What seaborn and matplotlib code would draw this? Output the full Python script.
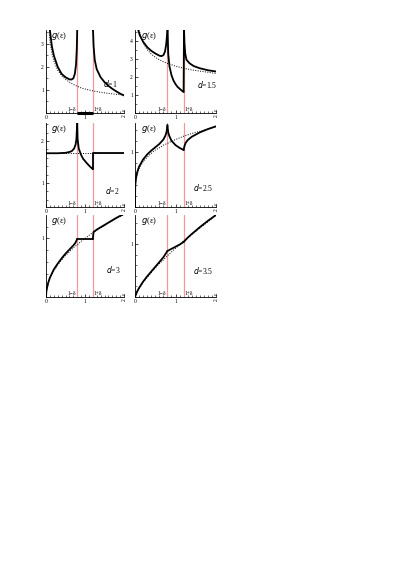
import numpy as np
import pandas as pd
import matplotlib.pyplot as plt
import seaborn as sns

sns.set_style("ticks")
plt.rcParams["font.family"] = ["Liberation Serif", "DejaVu Serif"]
plt.rcParams["text.color"] = "black"
plt.rcParams["xtick.color"] = "black"
plt.rcParams["ytick.color"] = "black"
plt.rcParams["axes.edgecolor"] = "black"

# gap edges 1-delta, 1+delta
gap_lo, gap_hi = 0.8, 1.2

# ---- d = 1 ----
d1_free_x = [0.08, 0.1, 0.15, 0.2, 0.3, 0.4, 0.5, 0.6, 0.7, 0.8, 0.9, 1.0, 1.2, 1.4, 1.6, 1.8, 2.0]
d1_free_y = [3.5, 3.15, 2.6, 2.26, 1.86, 1.62, 1.46, 1.34, 1.24, 1.16, 1.09, 1.04, 0.96, 0.9, 0.85, 0.81, 0.78]
d1_lo_x = [0.1, 0.15, 0.2, 0.3, 0.4, 0.5, 0.6, 0.65, 0.7, 0.74, 0.77, 0.79, 0.8]
d1_lo_y = [3.6, 2.9, 2.5, 2.0, 1.7, 1.55, 1.46, 1.45, 1.5, 1.7, 2.1, 2.8, 3.6]
d1_mid_x = [0.8, 1.2]
d1_mid_y = [0.0, 0.0]
d1_hi_x = [1.2, 1.205, 1.22, 1.25, 1.3, 1.4, 1.5, 1.6, 1.7, 1.8, 1.9, 2.0]
d1_hi_y = [3.6, 3.6, 2.9, 2.3, 1.9, 1.55, 1.34, 1.18, 1.05, 0.94, 0.84, 0.76]

# ---- d = 1.5 ----
d15_free_x = [0.1, 0.15, 0.2, 0.3, 0.4, 0.5, 0.6, 0.7, 0.8, 1.0, 1.2, 1.4, 1.6, 1.8, 2.0]
d15_free_y = [4.62, 4.18, 3.89, 3.51, 3.27, 3.09, 2.95, 2.84, 2.75, 2.6, 2.48, 2.39, 2.32, 2.26, 2.19]
d15_lo_x = [0.08, 0.12, 0.2, 0.3, 0.4, 0.5, 0.6, 0.65, 0.7, 0.74, 0.77, 0.79, 0.8]
d15_lo_y = [4.6, 4.3, 3.95, 3.65, 3.45, 3.3, 3.18, 3.15, 3.2, 3.4, 3.8, 4.3, 4.6]
d15_mid_x = [0.805, 0.82, 0.85, 0.9, 0.95, 1.0, 1.05, 1.1, 1.15, 1.19, 1.2]
d15_mid_y = [4.6, 3.3, 2.6, 2.1, 1.8, 1.6, 1.45, 1.35, 1.25, 1.18, 1.17]
d15_hi_x = [1.2, 1.21, 1.22, 1.24, 1.27, 1.35, 1.45, 1.6, 1.8, 2.0]
d15_hi_y = [1.17, 4.6, 3.9, 3.3, 2.95, 2.75, 2.6, 2.48, 2.37, 2.3]

# ---- d = 2 ----
d2_free_x = [0.0, 2.0]
d2_free_y = [1.71, 1.71]
d2_lo_x = [0.0, 0.3, 0.5, 0.6, 0.66, 0.72, 0.76, 0.78, 0.8]
d2_lo_y = [1.71, 1.71, 1.72, 1.74, 1.76, 1.82, 1.92, 2.05, 2.43]
d2_mid_x = [0.8, 0.81, 0.84, 0.9, 0.95, 1.04, 1.12, 1.19, 1.2]
d2_mid_y = [2.43, 2.05, 1.82, 1.67, 1.58, 1.48, 1.4, 1.34, 1.33]
d2_hi_x = [1.2, 1.2, 2.0]
d2_hi_y = [1.33, 1.71, 1.71]

# ---- d = 2.5 ----
d25_free_x = [0.0, 0.005, 0.01, 0.02, 0.05, 0.1, 0.2, 0.3, 0.4, 0.5, 0.6, 0.7, 0.8, 0.9, 1.0, 1.2, 1.4, 1.6, 1.8, 2.0]
d25_free_y = [0.0, 0.32, 0.39, 0.46, 0.58, 0.69, 0.82, 0.90, 0.97, 1.03, 1.07, 1.12, 1.15, 1.19, 1.22, 1.28, 1.33, 1.37, 1.41, 1.45]
d25_lo_x = [0.0, 0.005, 0.01, 0.02, 0.05, 0.1, 0.2, 0.3, 0.4, 0.5, 0.6, 0.7, 0.75, 0.78, 0.8]
d25_lo_y = [0.0, 0.35, 0.42, 0.5, 0.62, 0.73, 0.86, 0.95, 1.02, 1.08, 1.14, 1.22, 1.29, 1.36, 1.48]
d25_mid_x = [0.8, 0.82, 0.85, 0.9, 1.0, 1.1, 1.18, 1.2]
d25_mid_y = [1.48, 1.35, 1.28, 1.2, 1.12, 1.07, 1.04, 1.03]
d25_hi_x = [1.2, 1.22, 1.25, 1.3, 1.4, 1.6, 1.8, 2.0]
d25_hi_y = [1.03, 1.1, 1.16, 1.21, 1.27, 1.35, 1.41, 1.46]

# ---- d = 3 ----
d3_free_x = [0.0, 0.01, 0.05, 0.1, 0.2, 0.3, 0.4, 0.5, 0.6, 0.7, 0.8, 0.9, 1.0, 1.1, 1.2, 1.4, 1.6, 1.8, 2.0]
d3_free_y = [0.0, 0.1, 0.22, 0.32, 0.45, 0.55, 0.63, 0.71, 0.77, 0.84, 0.89, 0.95, 1.0, 1.05, 1.1, 1.18, 1.26, 1.34, 1.41]
d3_lo_x = [0.0, 0.01, 0.05, 0.1, 0.2, 0.3, 0.4, 0.5, 0.6, 0.7, 0.75, 0.8]
d3_lo_y = [0.0, 0.1, 0.23, 0.33, 0.47, 0.57, 0.66, 0.74, 0.81, 0.88, 0.92, 0.99]
d3_mid_x = [0.8, 1.2]
d3_mid_y = [0.99, 0.99]
d3_hi_x = [1.2, 1.22, 1.3, 1.4, 1.6, 1.8, 2.0]
d3_hi_y = [0.99, 1.11, 1.15, 1.19, 1.27, 1.35, 1.42]

# ---- d = 3.5 ----
d35_free_x = [0.0, 0.02, 0.05, 0.1, 0.2, 0.3, 0.4, 0.5, 0.6, 0.7, 0.8, 0.9, 1.0, 1.2, 1.4, 1.6, 1.8, 2.0]
d35_free_y = [0.0, 0.049, 0.097, 0.16, 0.28, 0.37, 0.46, 0.55, 0.63, 0.70, 0.78, 0.85, 0.92, 1.06, 1.18, 1.30, 1.42, 1.55]
d35_lo_x = [0.0, 0.05, 0.1, 0.2, 0.3, 0.4, 0.5, 0.6, 0.7, 0.75, 0.8]
d35_lo_y = [0.0, 0.1, 0.17, 0.29, 0.39, 0.48, 0.57, 0.66, 0.75, 0.81, 0.87]
d35_mid_x = [0.8, 0.85, 0.9, 1.0, 1.1, 1.2]
d35_mid_y = [0.87, 0.89, 0.91, 0.95, 0.99, 1.04]
d35_hi_x = [1.2, 1.3, 1.4, 1.6, 1.8, 2.0]
d35_hi_y = [1.04, 1.12, 1.19, 1.32, 1.44, 1.55]

panels = [
    ("1", (0, 3.6), [1, 2, 3], (d1_free_x, d1_free_y),
     [(d1_lo_x, d1_lo_y), (d1_hi_x, d1_hi_y)], (d1_mid_x, d1_mid_y)),
    ("1.5", (0, 4.6), [1, 2, 3, 4], (d15_free_x, d15_free_y),
     [(d15_lo_x, d15_lo_y), (d15_mid_x, d15_mid_y), (d15_hi_x, d15_hi_y)], None),
    ("2", (0.43, 2.43), [1, 2], (d2_free_x, d2_free_y),
     [(d2_lo_x, d2_lo_y), (d2_mid_x, d2_mid_y), (d2_hi_x, d2_hi_y)], None),
    ("2.5", (0, 1.52), [1], (d25_free_x, d25_free_y),
     [(d25_lo_x, d25_lo_y), (d25_mid_x, d25_mid_y), (d25_hi_x, d25_hi_y)], None),
    ("3", (0, 1.4), [1], (d3_free_x, d3_free_y),
     [(d3_lo_x, d3_lo_y), (d3_mid_x, d3_mid_y), (d3_hi_x, d3_hi_y)], None),
    ("3.5", (0, 1.55), [1], (d35_free_x, d35_free_y),
     [(d35_lo_x, d35_lo_y), (d35_mid_x, d35_mid_y), (d35_hi_x, d35_hi_y)], None),
]

W, H = 415, 587
cols = [(46, 124), (135, 216)]
rows = [(30, 113), (123, 207), (215, 297)]
label_pos = [(0.73, 0.36), (0.77, 0.34), (0.76, 0.2), (0.72, 0.23), (0.77, 0.33), (0.72, 0.32)]

fig = plt.figure(figsize=(W / 100, H / 100), dpi=100)

for i, (d, ylim, yt, free, segs, axis_seg) in enumerate(panels):
    r, c = divmod(i, 2)
    x0, x1 = cols[c]
    y0, y1 = rows[r]
    ax = fig.add_axes([x0 / W, 1 - y1 / H, (x1 - x0) / W, (y1 - y0) / H])

    ax.axvline(gap_lo, color="#f29a9a", lw=0.9, zorder=1)
    ax.axvline(gap_hi, color="#f29a9a", lw=0.9, zorder=1)

    sns.lineplot(x=free[0], y=free[1], ax=ax, color="black", lw=0.7,
                 linestyle=(0, (1, 1.5)), estimator=None, sort=False, zorder=2)
    for sx, sy in segs:
        sns.lineplot(x=sx, y=sy, ax=ax, color="black", lw=1.3,
                     estimator=None, sort=False, zorder=3)
    if axis_seg is not None:
        ax.plot(axis_seg[0], axis_seg[1], color="black", lw=2.2,
                solid_capstyle="butt", clip_on=False, zorder=4)

    ax.set_xlim(0, 2)
    ax.set_ylim(*ylim)
    ax.set_xticks([0, 1, 2])
    ax.set_xticklabels(["0", "1", ""])
    ax.set_xticks(np.arange(0, 2.01, 0.1), minor=True)
    ax.set_yticks(yt)
    step = 0.2 if ylim[1] - ylim[0] < 3 else 0.5
    ax.set_yticks(np.arange(np.ceil(ylim[0] / step) * step, ylim[1], step), minor=True)
    ax.tick_params(axis="both", which="major", direction="in", length=2.5,
                   width=0.5, labelsize=4, pad=1.5)
    ax.tick_params(axis="both", which="minor", direction="in", length=1.2, width=0.4)
    ax.set_xlabel("")
    ax.set_ylabel("")
    sns.despine(ax=ax)
    for s in ["left", "bottom"]:
        ax.spines[s].set_linewidth(0.6)

    ax.text(2.0, -0.02, "2", transform=ax.get_xaxis_transform(), rotation=90,
            ha="center", va="top", fontsize=4)
    ax.text(2.0, 0.02, "ε", transform=ax.get_xaxis_transform(), rotation=90,
            ha="center", va="bottom", fontsize=4)
    ax.text(gap_lo - 0.02, 0.015, "1−δ", transform=ax.get_xaxis_transform(),
            ha="right", va="bottom", fontsize=4)
    ax.text(gap_hi + 0.02, 0.015, "1+δ", transform=ax.get_xaxis_transform(),
            ha="left", va="bottom", fontsize=4)
    ax.text(0.07, 0.93, r"$g$(ε)", transform=ax.transAxes, ha="left", va="center",
            fontsize=6)
    lx, ly = label_pos[i]
    ax.text(lx, ly, r"$d$=" + d, transform=ax.transAxes, ha="left",
            va="center", fontsize=5.5)

fig.savefig("out.png", dpi=100)
